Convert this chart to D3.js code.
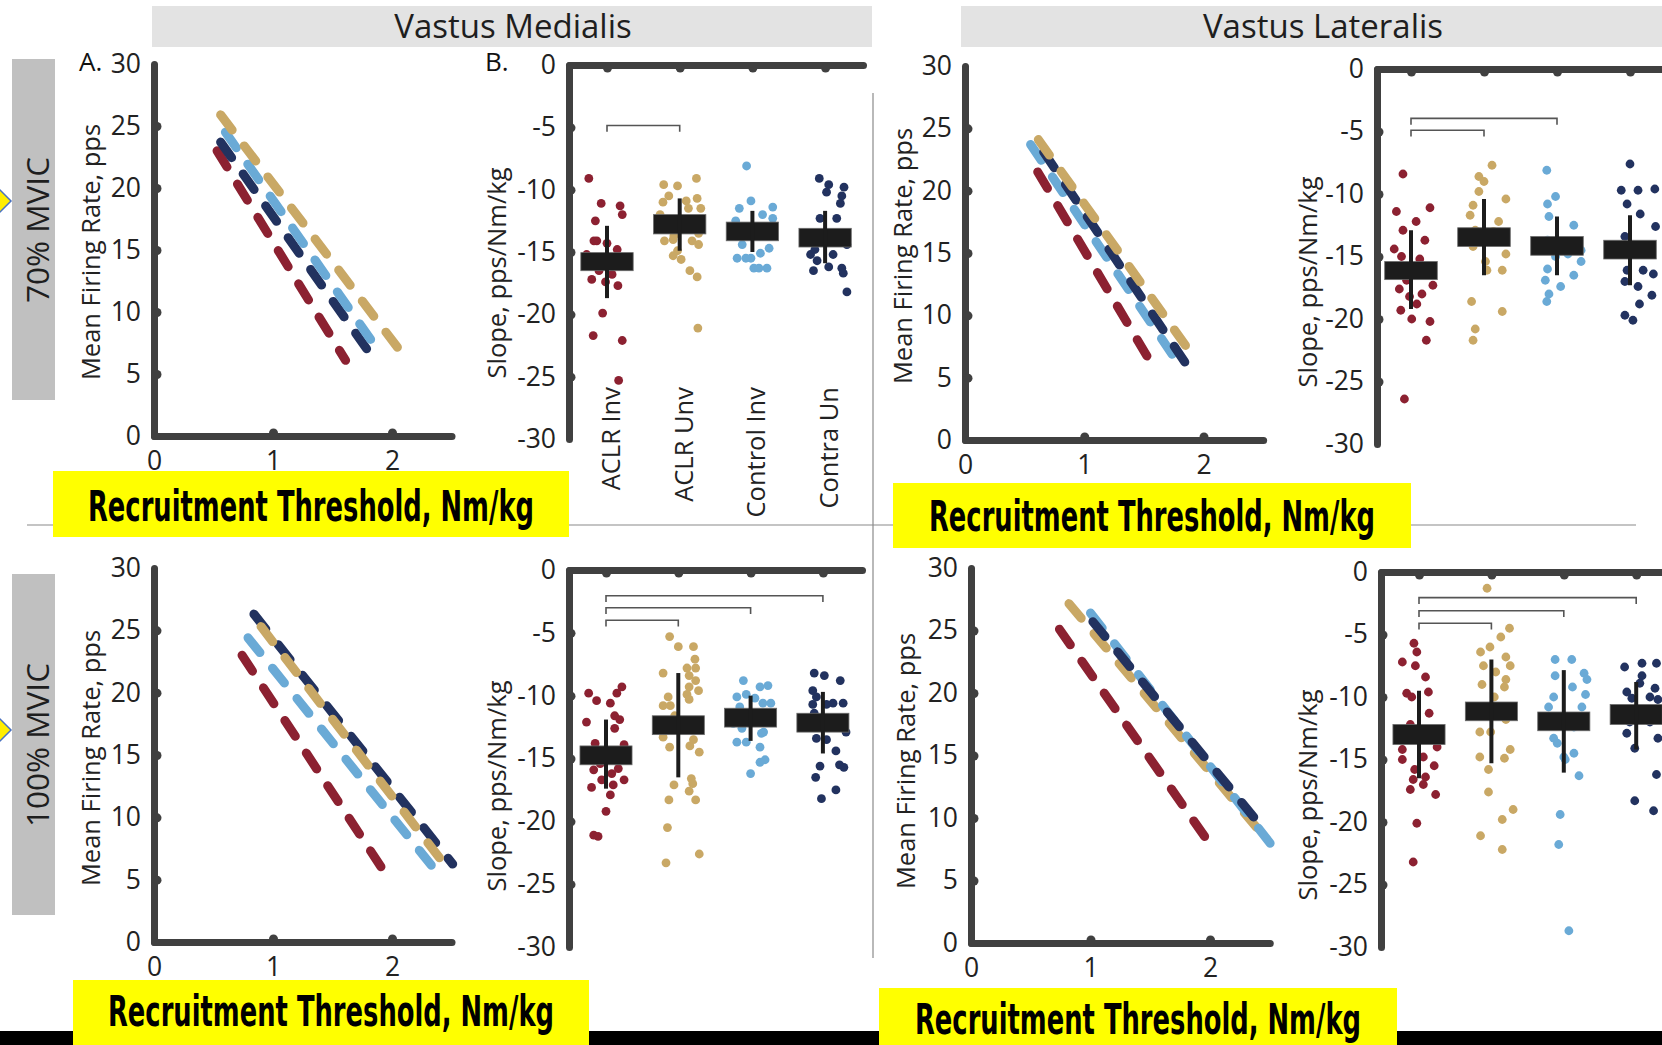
<!DOCTYPE html>
<html>
<head>
<meta charset="utf-8">
<script src="https://cdn.jsdelivr.net/npm/d3@7"></script>
<style>
  body { margin: 0; background: #fff; overflow: hidden; }
  svg { display: block; }
</style>
</head>
<body>
<svg id="fig" width="1662" height="1045"></svg>
<script>
// ---------- data ----------
const groups = ["ACLR Inv", "ACLR Unv", "Control Inv", "Contra Un"];
const groupColors = ["#8c2131", "#c9a865", "#6aaad6", "#22325f"];

const rateTicks = [0, 5, 10, 15, 20, 25, 30];
const thresholdTicks = [0, 1, 2];
const slopeTicks = [0, -5, -10, -15, -20, -25, -30];
const slopeTickLabels = ["0", "-5", "-10", "-15", "-20", "-25", "-30"];

const muscles = ["Vastus Medialis", "Vastus Lateralis"];
const intensities = ["70% MVIC", "100% MVIC"];
const xTitle = "Recruitment Threshold, Nm/kg";
const rateTitle = "Mean Firing Rate, pps";
const slopeTitle = "Slope, pps/Nm/kg";

// regression lines per group: [threshold start, rate start, threshold end, rate end]
const vm70Lines = [[0.53, 23.0, 1.61, 6.1], [0.56, 25.9, 2.05, 7.1], [0.60, 24.5, 1.90, 6.7], [0.56, 23.7, 1.87, 5.9]];
const vl70Lines = [[0.61, 21.5, 1.59, 5.7], [0.615, 24.1, 1.93, 6.5], [0.55, 23.7, 1.82, 5.7], [0.66, 23.1, 1.91, 5.3]];
const vm100Lines = [[0.74, 23.0, 1.92, 5.85], [0.90, 25.3, 2.46, 6.0], [0.79, 24.4, 2.39, 5.45], [0.84, 26.3, 2.51, 6.25]];
const vl100Lines = [[0.74, 25.1, 2.03, 7.5], [0.82, 27.15, 2.49, 8.1], [1.0, 26.4, 2.51, 7.9], [1.02, 25.7, 2.45, 9.1]];

// individual slopes per group: [horizontal jitter in category units, slope]
const vm70Dots = [
  [[-0.25,-9.1],[-0.08,-11.1],[0.18,-11.3],[0.21,-12.0],[-0.16,-12.5],[-0.14,-14.1],[0.0,-14.3],[0.14,-14.8],[-0.28,-15.2],[0.22,-15.7],
   [-0.21,-17.2],[-0.02,-17.4],[0.15,-17.7],[-0.06,-19.9],[-0.19,-21.7],[0.21,-22.1],[0.16,-25.3],[0.07,-16.8],[-0.11,-16.5],[-0.18,-14.1],[-0.05,-15.5],[0.09,-15.7]],
  [[-0.22,-9.6],[-0.03,-9.7],[0.23,-9.1],[-0.15,-10.5],[-0.23,-11.0],[0.09,-10.9],[0.24,-10.7],[0.12,-11.5],[0.29,-11.5],[-0.27,-12.0],
   [0.26,-13.5],[-0.21,-14.1],[-0.09,-14.0],[0.26,-14.4],[-0.03,-14.9],[-0.09,-15.3],[0.02,-15.6],[0.14,-16.5],[0.24,-17.0],[0.25,-21.1],[-0.08,-13.7],[0.17,-14.1]],
  [[-0.08,-8.1],[-0.02,-10.9],[-0.18,-11.5],[0.28,-11.4],[-0.23,-12.5],[0.28,-12.3],[-0.22,-13.7],[0.10,-13.7],[-0.14,-14.4],[0.23,-14.7],
   [-0.21,-15.5],[-0.02,-15.5],[0.11,-15.1],[0.02,-16.3],[0.20,-16.3],[0.09,-16.3],[-0.09,-15.5],[0.14,-12.0]],
  [[-0.08,-9.1],[0.05,-9.6],[0.02,-10.2],[0.26,-9.8],[0.23,-10.5],[0.21,-11.1],[-0.07,-12.3],[0.16,-12.3],[-0.18,-13.6],[0.23,-13.6],
   [0.30,-14.4],[-0.20,-15.2],[-0.11,-15.7],[-0.16,-16.5],[0.05,-16.2],[0.23,-16.3],[0.25,-16.7],[0.30,-18.2],[-0.14,-14.8],[0.11,-15.2]]
];
const vl70Dots = [
  [[-0.11,-8.4],[0.26,-11.1],[-0.20,-11.4],[0.07,-12.2],[-0.11,-12.9],[0.19,-13.7],[-0.23,-14.4],[-0.13,-15.0],[0.12,-15.2],[-0.20,-16.4],
   [-0.06,-16.9],[0.30,-17.3],[0.15,-18.0],[-0.16,-17.6],[-0.14,-19.3],[0.08,-18.8],[0.01,-20.0],[0.26,-20.2],[0.21,-21.7],[-0.09,-26.4],[-0.02,-18.2]],
  [[0.11,-7.7],[-0.07,-8.6],[0.0,-9.0],[-0.07,-9.8],[0.30,-10.4],[-0.15,-10.9],[-0.19,-11.7],[0.20,-12.2],[0.27,-13.4],[-0.15,-14.2],
   [0.30,-14.8],[0.02,-15.4],[0.25,-16.1],[0.04,-16.1],[-0.17,-18.6],[0.25,-19.4],[-0.12,-20.8],[-0.15,-21.7],[0.13,-13.0],[-0.12,-12.9]],
  [[-0.14,-8.1],[-0.02,-10.2],[-0.13,-10.8],[-0.11,-11.8],[0.23,-12.5],[-0.13,-13.7],[0.33,-14.5],[-0.02,-15.0],[0.33,-15.4],[-0.13,-16.0],
   [0.23,-16.5],[-0.16,-16.9],[0.05,-17.4],[-0.11,-18.0],[-0.14,-18.6],[0.15,-14.8]],
  [[0.0,-7.6],[-0.12,-9.7],[0.11,-9.7],[0.34,-9.6],[-0.04,-10.8],[0.14,-11.6],[0.35,-12.6],[-0.07,-13.4],[0.11,-14.8],[0.18,-16.1],
   [-0.04,-16.1],[0.32,-16.4],[-0.07,-17.0],[0.11,-17.4],[0.30,-18.1],[0.13,-18.8],[-0.07,-19.7],[0.04,-20.1]]
];
const vm100Dots = [
  [[-0.24,-9.8],[-0.13,-10.4],[0.06,-10.6],[0.15,-9.8],[0.22,-9.3],[-0.27,-12.1],[0.12,-11.6],[0.19,-11.9],[0.12,-12.6],[-0.15,-13.8],
   [0.25,-13.9],[-0.27,-14.9],[-0.17,-15.9],[0.17,-15.8],[-0.06,-16.7],[0.25,-16.7],[-0.20,-17.3],[0.06,-17.9],[0.10,-17.1],[0.0,-19.2],
   [-0.17,-21.1],[-0.11,-21.2],[-0.08,-15.4],[0.08,-16.2]],
  [[-0.12,-5.3],[0.0,-6.1],[0.21,-6.1],[0.23,-7.1],[0.12,-7.8],[0.24,-7.8],[-0.21,-8.2],[0.15,-8.4],[0.24,-8.8],[0.15,-9.3],
   [0.28,-9.6],[0.12,-9.9],[-0.14,-10.1],[0.15,-10.3],[-0.21,-10.8],[-0.11,-10.8],[-0.05,-11.6],[-0.21,-13.3],[-0.12,-14.1],[0.16,-14.0],
   [0.29,-14.5],[0.18,-16.6],[0.20,-17.0],[-0.06,-17.1],[0.15,-17.6],[-0.13,-18.3],[0.24,-18.3],[-0.15,-20.5],[0.29,-22.6],[-0.17,-23.3],[0.21,-13.5]],
  [[-0.10,-8.8],[0.13,-9.3],[0.24,-9.2],[-0.06,-9.9],[-0.19,-10.1],[0.06,-10.2],[0.17,-10.6],[0.28,-10.6],[-0.15,-10.9],[-0.24,-12.2],
   [-0.12,-12.6],[0.18,-12.9],[-0.19,-13.7],[-0.06,-13.7],[0.13,-14.1],[0.20,-15.1],[0.13,-15.3],[0.0,-16.2],[0.15,-13.0]],
  [[-0.12,-8.2],[0.02,-8.4],[0.24,-8.8],[-0.14,-9.6],[-0.09,-10.1],[-0.14,-10.7],[0.05,-10.7],[0.28,-10.6],[0.14,-10.6],[-0.12,-11.4],
   [0.32,-12.9],[-0.09,-13.4],[0.05,-13.5],[0.18,-14.4],[-0.04,-15.6],[0.23,-15.5],[0.29,-15.7],[-0.10,-16.5],[0.18,-17.5],[-0.02,-18.2]]
];
const vl100Dots = [
  [[-0.07,-5.7],[-0.03,-6.4],[-0.23,-7.2],[-0.05,-7.5],[0.09,-8.4],[-0.17,-9.7],[0.13,-9.6],[-0.10,-10.0],[0.14,-11.3],[-0.12,-12.2],
   [0.25,-14.0],[-0.23,-14.2],[0.06,-14.8],[-0.23,-15.0],[-0.06,-15.8],[0.21,-15.5],[0.09,-16.4],[-0.08,-16.6],[0.06,-17.0],[-0.12,-17.4],
   [0.23,-17.8],[-0.03,-20.1],[-0.08,-23.2],[-0.01,-13.4]],
  [[-0.06,-1.3],[0.25,-4.5],[0.13,-5.2],[-0.02,-6.0],[-0.15,-6.4],[0.20,-6.8],[-0.11,-7.5],[0.26,-7.5],[0.06,-8.0],[-0.13,-9.0],
   [0.20,-8.6],[0.18,-9.2],[0.04,-10.0],[-0.15,-11.3],[0.20,-11.8],[-0.16,-12.8],[-0.01,-12.8],[0.26,-14.2],[-0.16,-14.8],[0.18,-14.9],
   [-0.04,-15.8],[-0.04,-17.6],[0.30,-19.0],[0.15,-19.8],[-0.15,-21.1],[0.15,-22.2]],
  [[-0.12,-7.0],[0.11,-7.0],[-0.12,-8.3],[0.28,-8.1],[0.32,-8.6],[0.12,-9.2],[-0.14,-10.0],[0.30,-9.8],[-0.21,-10.8],[0.25,-10.8],
   [-0.11,-12.0],[0.14,-12.4],[-0.14,-13.3],[-0.09,-13.7],[0.14,-14.5],[0.0,-14.8],[0.02,-15.0],[0.21,-16.3],[-0.05,-19.4],[-0.07,-21.8],[0.07,-28.7]],
  [[-0.16,-7.6],[0.08,-7.3],[0.08,-8.3],[0.28,-7.3],[-0.13,-9.6],[0.05,-8.9],[0.26,-9.3],[-0.06,-10.1],[0.19,-10.0],[0.30,-10.2],
   [-0.09,-12.0],[0.19,-12.0],[0.30,-13.3],[-0.02,-14.1],[0.28,-16.2],[-0.02,-18.3],[0.24,-19.1],[-0.13,-12.9]]
];

// group summaries: box [low, high] and whisker [low, high]
const vm70Box = [[-16.5, -15.05], [-13.55, -12.0], [-14.1, -12.6], [-14.6, -13.1]];
const vm70Bar = [[-18.7, -12.9], [-14.9, -10.7], [-15.0, -11.7], [-15.9, -11.7]];
const vl70Box = [[-16.85, -15.4], [-14.2, -12.7], [-14.9, -13.4], [-15.2, -13.7]];
const vl70Bar = [[-19.2, -12.9], [-16.5, -10.4], [-16.5, -11.8], [-17.3, -11.7]];
const vm100Box = [[-15.5, -14.0], [-13.1, -11.6], [-12.5, -11.0], [-12.9, -11.4]];
const vm100Bar = [[-17.4, -11.9], [-16.5, -8.2], [-13.6, -10.0], [-14.6, -9.7]];
const vl100Box = [[-13.8, -12.2], [-11.9, -10.4], [-12.7, -11.2], [-12.2, -10.6]];
const vl100Bar = [[-16.5, -9.5], [-15.3, -7.0], [-16.05, -7.85], [-14.2, -8.8]];

// significant pairwise differences: [group a, group b, bracket level]
const vm70Pairs = [[0, 1, -4.85]];
const vl70Pairs = [[0, 2, -3.95], [0, 1, -4.9]];
const vm100Pairs = [[0, 3, -2.05], [0, 2, -3.0], [0, 1, -4.0]];
const vl100Pairs = [[0, 3, -2.05], [0, 2, -3.1], [0, 1, -4.1]];

// ---------- drawing ----------
const svg = d3.select("#fig");
const FONT = "'Open Sans', 'Noto Sans', sans-serif";
const AXIS = "#404040";
const TXT = "#222";

// background furniture: headers, row labels, dividers
svg.append("rect").attr("x", 0).attr("y", 0).attr("width", 1662).attr("height", 1045).attr("fill", "#fff");
const headers = [{x: 152, w: 720, cx: 513}, {x: 961, w: 710, cx: 1323}];
headers.forEach((h, i) => {
  svg.append("rect").attr("x", h.x).attr("y", 6).attr("width", h.w).attr("height", 41).attr("fill", "#e3e3e3");
  svg.append("text").attr("x", h.cx).attr("y", 38).attr("text-anchor", "middle")
    .attr("font-family", FONT).attr("font-size", 33).attr("fill", "#1e1e1e").text(muscles[i]);
});
const rowBoxes = [{y: 59, h: 341, cy: 230, tip: 201}, {y: 574, h: 341, cy: 745, tip: 730}];
rowBoxes.forEach((r, i) => {
  svg.append("rect").attr("x", 12).attr("y", r.y).attr("width", 43).attr("height", r.h).attr("fill", "#c0c0c0");
  svg.append("text").attr("transform", `translate(36,${r.cy}) rotate(-90)`).attr("text-anchor", "middle")
    .attr("dominant-baseline", "central").attr("font-family", FONT).attr("font-size", 31.5).attr("fill", "#1e1e1e")
    .text(intensities[i]);
  svg.append("path").attr("d", `M-6,${r.tip - 17} L11,${r.tip} L-6,${r.tip + 17} Z`)
    .attr("fill", "#ffee00").attr("stroke", "#4a72c0").attr("stroke-width", 1.5);
});
svg.append("line").attr("x1", 27).attr("x2", 1636).attr("y1", 525).attr("y2", 525).attr("stroke", "#8a8a8a").attr("stroke-width", 1.2);
svg.append("line").attr("x1", 873).attr("x2", 873).attr("y1", 93).attr("y2", 958).attr("stroke", "#8a8a8a").attr("stroke-width", 1.2);

function styleAxis(g) {
  g.select(".domain").attr("stroke", AXIS).attr("stroke-width", 7).attr("stroke-linecap", "round");
  g.selectAll(".tick text").attr("font-family", FONT).attr("font-size", 26.5).attr("fill", TXT);
}

function ratePanel(L, lines, order) {
  const x = d3.scaleLinear().domain([0, 2]).range([L.x0, L.x2]);
  const xAxisScale = x.copy().domain([0, 2.5]).range([L.x0, x(2.5)]);
  const y = d3.scaleLinear().domain([0, 30]).range([L.y0, L.y30]);
  const g = svg.append("g");

  const lineLayer = g.append("g");
  order.forEach(i => {
    const d = lines[i];
    lineLayer.append("line")
      .attr("x1", x(d[0])).attr("y1", y(d[1])).attr("x2", x(d[2])).attr("y2", y(d[3]))
      .attr("stroke", groupColors[i]).attr("stroke-width", 9)
      .attr("stroke-dasharray", "19,20").attr("stroke-linecap", "round");
  });

  const ya = g.append("g").attr("transform", `translate(${L.x0},0)`)
    .call(d3.axisLeft(y).tickValues(rateTicks).tickSize(0).tickSizeOuter(0).tickPadding(13));
  styleAxis(ya);
  ya.selectAll(".tick").filter(v => v !== 0 && v !== 30).append("circle").attr("cx", 3).attr("r", 4.5).attr("fill", AXIS);

  const xa = g.append("g").attr("transform", `translate(0,${L.y0})`)
    .call(d3.axisBottom(xAxisScale).tickValues(thresholdTicks).tickFormat(d3.format("d"))
      .tickSize(0).tickSizeOuter(0).tickPadding(15));
  styleAxis(xa);
  xa.selectAll(".tick").filter(v => v !== 0).append("circle").attr("cy", -3).attr("r", 4.5).attr("fill", AXIS);

  g.append("text").attr("transform", `translate(${L.titleX},${L.titleY}) rotate(-90)`)
    .attr("text-anchor", "middle").attr("dominant-baseline", "central")
    .attr("font-family", FONT).attr("font-size", 25.5).attr("fill", TXT).text(rateTitle);
}

function slopePanel(L, dots, box, bar, pairs, showCats) {
  const x = d3.scaleLinear().domain([0, 1]).range([L.cat0, L.cat0 + L.step]);
  const topScale = x.copy().domain([x.invert(L.axisX), x.invert(L.endX)]).range([L.axisX, L.endX]);
  const y = d3.scaleLinear().domain([-30, 0]).range([L.yBot, L.yTop]);
  const g = svg.append("g");

  // brackets
  pairs.forEach(p => {
    const xa = x(p[0]), xb = x(p[1]), yt = y(p[2]), yl = y(p[2] - 0.5);
    g.append("path").attr("d", `M${xa},${yl} V${yt} H${xb} V${yl}`)
      .attr("fill", "none").attr("stroke", "#555").attr("stroke-width", 1.6);
  });

  // individual slopes
  dots.forEach((grp, i) => {
    g.append("g").selectAll("circle").data(grp).join("circle")
      .attr("cx", d => x(i + d[0])).attr("cy", d => y(d[1])).attr("r", 4.4)
      .attr("fill", groupColors[i]);
  });

  // summary boxes and whiskers
  const half = 0.36;
  box.forEach((b, i) => {
    g.append("rect").attr("x", x(i - half)).attr("width", x(i + half) - x(i - half))
      .attr("y", y(b[1])).attr("height", y(b[0]) - y(b[1]))
      .attr("fill", "#1c1c1c").attr("stroke", "#6a6a6a").attr("stroke-width", 0.8);
    g.append("line").attr("x1", x(i)).attr("x2", x(i)).attr("y1", y(bar[i][0])).attr("y2", y(bar[i][1]))
      .attr("stroke", "#1c1c1c").attr("stroke-width", 4);
  });

  const ya = g.append("g").attr("transform", `translate(${L.axisX},0)`)
    .call(d3.axisLeft(y).tickValues(slopeTicks).tickFormat((v, k) => slopeTickLabels[k])
      .tickSize(0).tickSizeOuter(0).tickPadding(13));
  styleAxis(ya);
  ya.selectAll(".tick").filter(v => v !== 0 && v !== -30).append("circle").attr("cx", 2).attr("r", 4.5).attr("fill", AXIS);

  const xa = g.append("g").attr("transform", `translate(0,${L.yTop})`)
    .call(d3.axisTop(topScale).tickValues([0, 1, 2, 3]).tickFormat("").tickSize(0).tickSizeOuter(0));
  styleAxis(xa);
  xa.selectAll(".tick").append("circle").attr("cy", 3).attr("r", 4.5).attr("fill", AXIS);

  if (showCats) {
    groups.forEach((name, i) => {
      g.append("text").attr("transform", `translate(${x(i) + 3},${L.catY}) rotate(-90)`)
        .attr("text-anchor", "end").attr("dominant-baseline", "central")
        .attr("font-family", FONT).attr("font-size", 25.5).attr("fill", TXT).text(name);
    });
  }

  g.append("text").attr("transform", `translate(${L.titleX},${L.titleY}) rotate(-90)`)
    .attr("text-anchor", "middle").attr("dominant-baseline", "central")
    .attr("font-family", FONT).attr("font-size", 25.5).attr("fill", TXT).text(slopeTitle);
}

ratePanel({x0: 154, x2: 392, y0: 436, y30: 64, titleX: 90, titleY: 252}, vm70Lines, [0, 3, 2, 1]);
ratePanel({x0: 965, x2: 1203.5, y0: 440, y30: 66, titleX: 902, titleY: 256}, vl70Lines, [0, 2, 3, 1]);
ratePanel({x0: 154, x2: 392, y0: 942, y30: 568, titleX: 90, titleY: 758}, vm100Lines, [0, 2, 3, 1]);
ratePanel({x0: 971, x2: 1210, y0: 943, y30: 568, titleX: 905, titleY: 761}, vl100Lines, [0, 1, 2, 3]);

slopePanel({axisX: 569, cat0: 607, step: 72.7, endX: 863, yTop: 65, yBot: 439, catY: 387, titleX: 496, titleY: 273},
  vm70Dots, vm70Box, vm70Bar, vm70Pairs, true);
slopePanel({axisX: 1377, cat0: 1411, step: 73, endX: 1700, yTop: 69, yBot: 444, titleX: 1307, titleY: 282},
  vl70Dots, vl70Box, vl70Bar, vl70Pairs, false);
slopePanel({axisX: 569, cat0: 606, step: 72.3, endX: 862, yTop: 570, yBot: 947, titleX: 496, titleY: 786},
  vm100Dots, vm100Box, vm100Bar, vm100Pairs, false);
slopePanel({axisX: 1381, cat0: 1419, step: 72.4, endX: 1700, yTop: 572, yBot: 947, titleX: 1307, titleY: 795},
  vl100Dots, vl100Box, vl100Bar, vl100Pairs, false);

// panel letters
svg.append("text").attr("x", 79).attr("y", 71).attr("font-family", FONT).attr("font-size", 26).attr("fill", "#111").text("A.");
svg.append("text").attr("x", 485).attr("y", 71).attr("font-family", FONT).attr("font-size", 26).attr("fill", "#111").text("B.");

// bottom band and x-axis title boxes
svg.append("rect").attr("x", 0).attr("y", 1031).attr("width", 1662).attr("height", 14).attr("fill", "#000");
const titleBoxes = [
  {x: 53, y: 471, w: 516, h: 66, cx: 311, base: 521},
  {x: 893, y: 483, w: 518, h: 65, cx: 1152, base: 531},
  {x: 73, y: 980, w: 516, h: 65, cx: 331, base: 1026},
  {x: 879, y: 988, w: 518, h: 57, cx: 1138, base: 1034}
];
titleBoxes.forEach(b => {
  svg.append("rect").attr("x", b.x).attr("y", b.y).attr("width", b.w).attr("height", b.h).attr("fill", "#ffff00");
  svg.append("text").attr("x", b.cx).attr("y", b.base).attr("text-anchor", "middle")
    .attr("font-family", "'Liberation Sans Narrow', 'DejaVu Sans Condensed', 'Liberation Sans', sans-serif")
    .attr("font-weight", "bold").attr("font-size", 43).attr("fill", "#000")
    .attr("textLength", 446).attr("lengthAdjust", "spacingAndGlyphs").text(xTitle);
});
</script>
</body>
</html>
